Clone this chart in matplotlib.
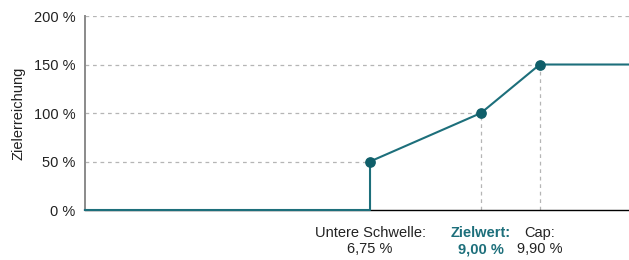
import numpy as np
import matplotlib
matplotlib.use('Agg')
import matplotlib.pyplot as plt

plt.rcParams['font.family'] = ['Liberation Sans', 'DejaVu Sans']

# Kennzahlen
schwellen_werte = [6.75, 9.00, 9.90]        # Untere Schwelle, Zielwert, Cap (in %)
zielerreichung = [50, 100, 150]              # Zielerreichung an den Punkten (in %)
schwellen_namen = ['Untere Schwelle:', 'Zielwert:', 'Cap:']
schwellen_texte = ['6,75 %', '9,00 %', '9,90 %']
y_ticks = [0, 50, 100, 150, 200]
x_min, x_max = 0.0, 12.0

TEAL = '#1d6f7b'
DOT = '#0f5e69'
GRID = '#b5b5b5'

# Achse ist nicht linear: Abschnitte zwischen den Schwellen gestaucht
x_knoten = [x_min] + schwellen_werte + [x_max]
pos_knoten = [0.0, 0.524, 0.728, 0.836, 1.0]

def fwd(x):
    return np.interp(x, x_knoten, pos_knoten)

def inv(p):
    return np.interp(p, pos_knoten, x_knoten)

fig = plt.figure(figsize=(6.29, 2.6), dpi=100)
ax = fig.add_axes([0.135, 0.1923, 0.865, 0.7461])
ax.set_xscale('function', functions=(fwd, inv))
ax.set_xlim(x_min, x_max)
ax.set_ylim(0, 200)

# Hilfslinien
ax.plot([x_min, x_max], [200, 200], ls=(0, (3, 3)), color=GRID, lw=0.9, zorder=1)
for xv, yv in zip(schwellen_werte, zielerreichung):
    ax.plot([x_min, xv], [yv, yv], ls=(0, (3, 3)), color=GRID, lw=0.9, zorder=1)
for xv, yv in zip(schwellen_werte[1:], zielerreichung[1:]):
    ax.plot([xv, xv], [0, yv], ls=(0, (3, 3)), color=GRID, lw=0.9, zorder=1)

# Kurve
kx = [x_min, schwellen_werte[0]] + schwellen_werte + [x_max]
ky = [0, 0] + zielerreichung + [zielerreichung[-1]]
ax.plot(kx, ky, color=TEAL, lw=1.5, zorder=3, clip_on=False)
ax.scatter(schwellen_werte, zielerreichung, s=45, color=DOT, zorder=4, clip_on=False)

for s in ['top', 'right']:
    ax.spines[s].set_visible(False)
ax.spines['left'].set_color('#8a8a8a')
ax.spines['left'].set_linewidth(1.4)
ax.spines['bottom'].set_color('black')
ax.spines['bottom'].set_linewidth(1.0)
ax.spines['bottom'].set_zorder(2)

ax.set_yticks(y_ticks)
ax.set_yticklabels([f'{v} %' for v in y_ticks], fontsize=10.5, color='#222222')
ax.tick_params(axis='y', length=0, pad=7)
ax.set_xticks([])
ax.set_ylabel('Zielerreichung', fontsize=10.5, color='#222222', labelpad=6)

for i, (xv, name, txt) in enumerate(zip(schwellen_werte, schwellen_namen, schwellen_texte)):
    farbe = TEAL if i == 1 else '#222222'
    gewicht = 'bold' if i == 1 else 'normal'
    ax.text(xv, -16, name, ha='center', va='top', fontsize=10.5, color=farbe,
            fontweight=gewicht)
    ax.text(xv, -33, txt, ha='center', va='top', fontsize=10.5, color=farbe,
            fontweight=gewicht)

fig.savefig('out.png', dpi=100)
